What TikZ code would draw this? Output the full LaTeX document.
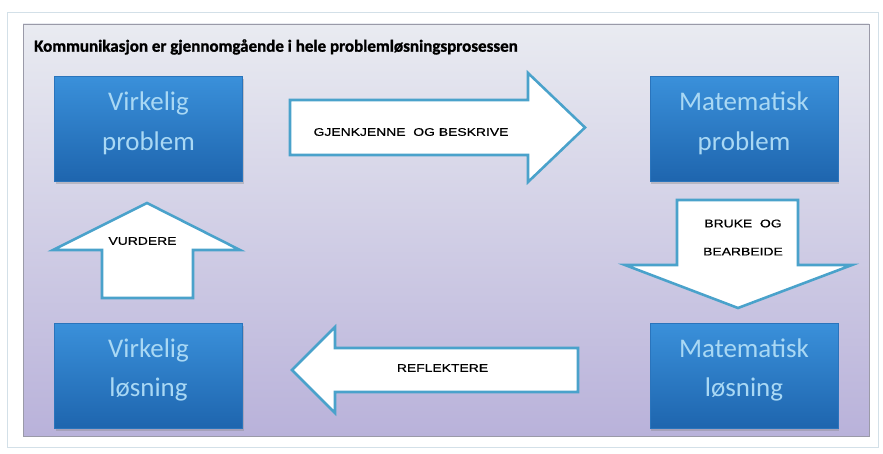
\documentclass[tikz,border=0pt]{standalone}
\usepackage{fontspec}
\setmainfont{Carlito}
\newfontfamily\capsfont[FakeStretch=1.25, FakeBold=0.6]{Liberation Sans}
\newfontfamily\titlefont[FakeBold=1.2]{Carlito}
\usetikzlibrary{shadows}

\definecolor{panelTop}{HTML}{E9EBF1}
\definecolor{panelBottom}{HTML}{B9B2DA}
\definecolor{panelEdge}{HTML}{9A9AA8}
\definecolor{frameLine}{HTML}{D3E0E8}
\definecolor{boxTop}{HTML}{3A90DA}
\definecolor{boxBottom}{HTML}{1E65AE}
\definecolor{boxEdge}{HTML}{2A74BC}
\definecolor{boxText}{HTML}{A9D8F4}
\definecolor{arrowEdge}{HTML}{4AA2CB}

\begin{document}
\begin{tikzpicture}[x=0.03cm, y=-0.03cm,
problembox/.style={rectangle, draw=boxEdge, top color=boxTop, bottom color=boxBottom,
  minimum width=5.64cm, minimum height=3.15cm,
  drop shadow={opacity=0.35, shadow xshift=1pt, shadow yshift=-2pt}},
boxtext/.style={text=boxText, align=center, font=\fontsize{23}{34}\selectfont},
blockarrow/.style={draw=arrowEdge, line width=2.2pt, fill=white, line join=miter},
arrowlabel/.style={font=\capsfont\fontsize{9.5}{24}\selectfont, text=black, align=center}
]

\useasboundingbox (0,0) rectangle (883,454);
\fill[white] (0,0) rectangle (883,454);
\draw[frameLine, line width=0.8pt] (7,12) rectangle (878,447);
\shade[top color=panelTop, bottom color=panelBottom, draw=panelEdge, line width=0.8pt]
  (23,24) rectangle (869,436);

\node[anchor=west, font=\titlefont\bfseries\fontsize{14.5}{16}\selectfont] (title) at (30,47)
  {Kommunikasjon er gjennomgående i hele problemløsningsprosessen};

\node[problembox] (VP) at (148.5,129) {};
\node[problembox] (MP) at (744,129) {};
\node[problembox] (VL) at (148.5,376) {};
\node[problembox] (ML) at (744,376) {};
\node[boxtext] (VPtext) at ([yshift=0.18cm]VP) {Virkelig\\problem};
\node[boxtext] (MPtext) at ([yshift=0.18cm]MP) {Matematisk\\problem};
\node[boxtext] (VLtext) at ([yshift=0.18cm]VL) {Virkelig\\løsning};
\node[boxtext] (MLtext) at ([yshift=0.18cm]ML) {Matematisk\\løsning};

% gjenkjenne
\draw[blockarrow] (290,100) -- (528,100) -- (528,73) -- (585,127.5) -- (528,182)
  -- (528,155) -- (290,155) -- cycle;
\node[arrowlabel] (gjenkjenne) at (411,132) {GJENKJENNE\ \ OG BESKRIVE};

% bruke
\draw[blockarrow] (677,200) -- (798,200) -- (798,265) -- (852,265) -- (738,308)
  -- (625,265) -- (677,265) -- cycle;
\node[arrowlabel] (bruke) at (743,237.5) {BRUKE\ \ OG\\BEARBEIDE};

% reflektere
\draw[blockarrow] (578,348) -- (335,348) -- (335,327) -- (292,370) -- (335,413)
  -- (335,392) -- (578,392) -- cycle;
\node[arrowlabel] (reflektere) at (442.5,368) {REFLEKTERE};

% vurdere
\draw[blockarrow] (102,298) -- (102,250) -- (53,250) -- (147,203) -- (240,250)
  -- (193,250) -- (193,298) -- cycle;
\node[arrowlabel] (vurdere) at (142.5,241) {VURDERE};

\end{tikzpicture}
\end{document}
